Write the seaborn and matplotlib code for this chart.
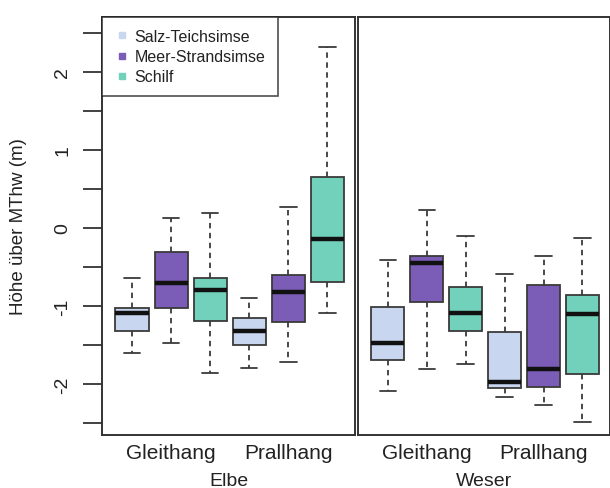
import numpy as np
import pandas as pd
import matplotlib
matplotlib.use("Agg")
import matplotlib.pyplot as plt
from matplotlib.lines import Line2D
import seaborn as sns

sns.set_style("ticks")
plt.rcParams['font.family'] = ['Liberation Sans', 'DejaVu Sans']

rivers = ["Elbe", "Weser"]
sites = ["Gleithang", "Prallhang"]
species = ["Salz-Teichsimse", "Meer-Strandsimse", "Schilf"]
colors = ["#c8d6f0", "#7b5cb6", "#72d1bb"]

# whisker low, Q1, median, Q3, whisker high
# order inside each list: Salz-Teichsimse, Meer-Strandsimse, Schilf
elbe_gleithang = [[-1.60, -1.32, -1.09, -1.03, -0.64],
                  [-1.47, -1.03, -0.71, -0.31, 0.13],
                  [-1.86, -1.19, -0.79, -0.64, 0.19]]
elbe_prallhang = [[-1.79, -1.50, -1.32, -1.15, -0.90],
                  [-1.72, -1.21, -0.82, -0.60, 0.27],
                  [-1.09, -0.69, -0.14, 0.65, 2.31]]
weser_gleithang = [[-2.09, -1.69, -1.47, -1.01, -0.41],
                   [-1.80, -0.95, -0.45, -0.36, 0.23],
                   [-1.74, -1.32, -1.09, -0.76, -0.10]]
weser_prallhang = [[-2.16, -2.05, -1.97, -1.33, -0.59],
                   [-2.26, -2.04, -1.81, -0.73, -0.36],
                   [-2.49, -1.87, -1.10, -0.86, -0.13]]

summaries = {("Elbe", "Gleithang"): elbe_gleithang,
             ("Elbe", "Prallhang"): elbe_prallhang,
             ("Weser", "Gleithang"): weser_gleithang,
             ("Weser", "Prallhang"): weser_prallhang}

rows = []
for (river, site), stats in summaries.items():
    for sp, vals in zip(species, stats):
        for v in vals:
            rows.append({"river": river, "site": site, "species": sp, "value": v})
df = pd.DataFrame(rows)

fig = plt.figure(figsize=(6.1, 4.89), dpi=100)
ax1 = fig.add_axes([102 / 610, 1 - 436 / 489, 253 / 610, 418 / 489])
ax2 = fig.add_axes([358 / 610, 1 - 436 / 489, 252 / 610, 418 / 489])

for ax, river in zip([ax1, ax2], rivers):
    sns.boxplot(data=df[df["river"] == river], x="site", y="value", hue="species",
                order=sites, hue_order=species, palette=colors, width=1.0, gap=0.15,
                whis=(0, 100), linewidth=1.3, linecolor="#3a3a3a", saturation=1,
                medianprops=dict(color="#111111", linewidth=3.2),
                whiskerprops=dict(linestyle=(0, (3, 2.5))),
                legend=False, ax=ax)
    ax.set_xlim(-0.59, 1.57)
    ax.set_ylim(-2.65, 2.7)
    ax.set_xlabel(river, fontsize=14, labelpad=7, color="#222222")
    ax.tick_params(axis="x", length=0, labelsize=15, pad=6, labelcolor="#222222")
    for s in ax.spines.values():
        s.set_linewidth(1.4)
        s.set_color("#333333")

yt = np.arange(-2.5, 2.6, 0.5)
ax1.set_yticks(yt)
ax1.set_yticklabels([f"{v:.0f}" if v == int(v) else "" for v in yt], rotation=90, va="center")
ax1.tick_params(axis="y", length=14, width=1.3, labelsize=14, pad=8, color="#333333",
                labelcolor="#222222")
ax1.set_ylabel("Höhe über MThw (m)", fontsize=13.5, labelpad=20, color="#222222")
ax2.set_yticks([])
ax2.set_ylabel("")

handles = [Line2D([], [], marker="s", ls="", color=c, markersize=5) for c in colors]
leg = ax1.legend(handles, species, loc="upper left", fontsize=11.5, frameon=True,
                 fancybox=False, edgecolor="#222222", borderaxespad=0,
                 handletextpad=0.3, labelspacing=0.32, borderpad=0.75, handlelength=1.0,
                 labelcolor="#222222")
leg.get_frame().set_linewidth(1.2)

fig.savefig("out.png", dpi=100)
